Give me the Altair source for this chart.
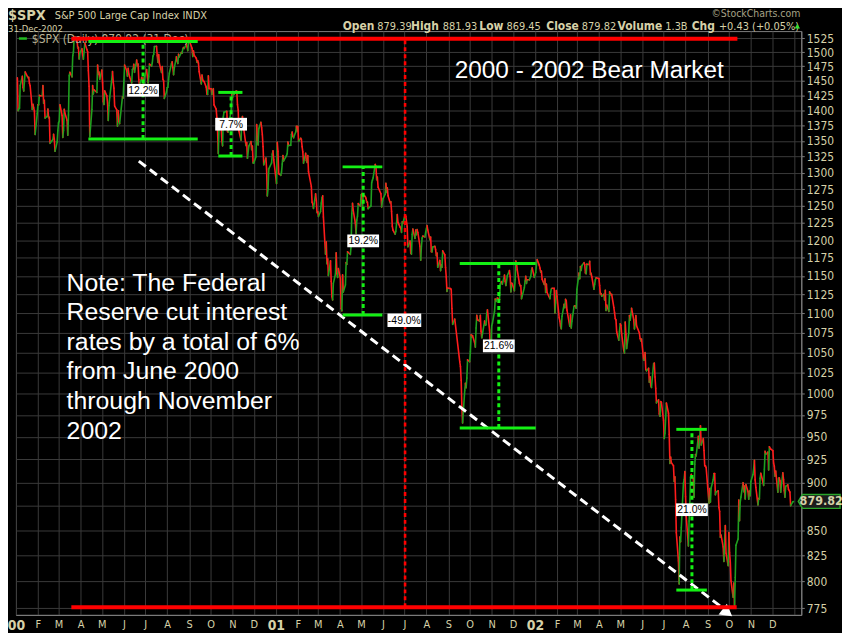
import altair as alt
import pandas as pd

# ---------------- data: S&P 500 daily closes ----------------
spx_2000 = [
    ("01-03", 1455.2), ("01-04", 1399.4), ("01-05", 1402.1), ("01-06", 1403.5), ("01-07", 1441.5),
    ("01-10", 1457.6), ("01-11", 1438.6), ("01-12", 1432.3), ("01-13", 1449.7), ("01-14", 1465.2),
    ("01-18", 1455.1), ("01-19", 1456.0), ("01-20", 1445.6), ("01-21", 1441.4), ("01-24", 1401.5),
    ("01-25", 1410.0), ("01-26", 1404.1), ("01-27", 1398.6), ("01-28", 1360.2), ("01-31", 1394.5),
    ("02-01", 1409.3), ("02-02", 1409.1), ("02-03", 1425.0), ("02-04", 1424.4), ("02-07", 1424.2),
    ("02-08", 1441.7), ("02-09", 1411.7), ("02-10", 1416.8), ("02-11", 1387.1), ("02-14", 1389.9),
    ("02-15", 1402.1), ("02-16", 1387.7), ("02-17", 1388.3), ("02-18", 1346.1), ("02-22", 1352.2),
    ("02-23", 1360.7), ("02-24", 1353.4), ("02-25", 1333.4), ("02-28", 1348.1), ("02-29", 1366.4),
    ("03-01", 1379.2), ("03-02", 1381.8), ("03-03", 1409.2), ("03-06", 1391.3), ("03-07", 1355.6),
    ("03-08", 1366.7), ("03-09", 1401.7), ("03-10", 1395.1), ("03-13", 1383.6), ("03-14", 1359.2),
    ("03-15", 1392.1), ("03-16", 1458.5), ("03-17", 1464.5), ("03-20", 1456.6), ("03-21", 1493.9),
    ("03-22", 1500.6), ("03-23", 1527.4), ("03-24", 1527.5), ("03-27", 1523.9), ("03-28", 1507.7),
    ("03-29", 1508.5), ("03-30", 1487.9), ("03-31", 1498.6),
    ("04-03", 1506.0), ("04-04", 1494.7), ("04-05", 1487.4), ("04-06", 1501.3), ("04-07", 1516.4),
    ("04-10", 1504.5), ("04-11", 1500.6), ("04-12", 1467.2), ("04-13", 1440.5), ("04-14", 1356.6),
    ("04-17", 1401.4), ("04-18", 1441.6), ("04-19", 1427.5), ("04-20", 1434.5), ("04-24", 1429.9),
    ("04-25", 1477.4), ("04-26", 1461.0), ("04-27", 1464.9), ("04-28", 1452.4),
    ("05-01", 1468.3), ("05-02", 1446.3), ("05-03", 1415.1), ("05-04", 1409.6), ("05-05", 1432.6),
    ("05-08", 1424.2), ("05-09", 1412.1), ("05-10", 1383.1), ("05-11", 1407.8), ("05-12", 1421.0),
    ("05-15", 1452.4), ("05-16", 1466.0), ("05-17", 1447.8), ("05-18", 1437.2), ("05-19", 1407.0),
    ("05-22", 1400.7), ("05-23", 1373.9), ("05-24", 1399.1), ("05-25", 1381.5), ("05-26", 1378.0),
    ("05-30", 1422.4), ("05-31", 1420.6),
    ("06-01", 1448.8), ("06-02", 1477.3), ("06-05", 1467.6), ("06-06", 1457.8), ("06-07", 1471.4),
    ("06-08", 1461.7), ("06-09", 1457.0), ("06-12", 1446.0), ("06-13", 1469.4), ("06-14", 1470.5),
    ("06-15", 1478.7), ("06-16", 1464.5), ("06-19", 1486.0), ("06-20", 1476.0), ("06-21", 1479.1),
    ("06-22", 1452.2), ("06-23", 1441.5), ("06-26", 1455.3), ("06-27", 1450.5), ("06-28", 1454.8),
    ("06-29", 1442.4), ("06-30", 1454.6),
    ("07-03", 1469.5), ("07-05", 1446.2), ("07-06", 1456.7), ("07-07", 1478.9), ("07-10", 1475.6),
    ("07-11", 1480.9), ("07-12", 1492.9), ("07-13", 1495.8), ("07-14", 1510.0), ("07-17", 1510.5),
    ("07-18", 1493.7), ("07-19", 1482.0), ("07-20", 1495.6), ("07-21", 1480.2), ("07-24", 1464.3),
    ("07-25", 1474.5), ("07-26", 1452.4), ("07-27", 1449.6), ("07-28", 1419.9), ("07-31", 1430.8),
    ("08-01", 1438.1), ("08-02", 1438.7), ("08-03", 1452.6), ("08-04", 1462.9), ("08-07", 1479.3),
    ("08-08", 1482.8), ("08-09", 1472.9), ("08-10", 1460.3), ("08-11", 1471.8), ("08-14", 1491.6),
    ("08-15", 1484.4), ("08-16", 1479.9), ("08-17", 1496.1), ("08-18", 1491.7), ("08-21", 1499.5),
    ("08-22", 1498.1), ("08-23", 1506.0), ("08-24", 1508.3), ("08-25", 1506.5), ("08-28", 1514.1),
    ("08-29", 1509.8), ("08-30", 1502.6), ("08-31", 1517.7),
    ("09-01", 1520.8), ("09-05", 1507.1), ("09-06", 1492.2), ("09-07", 1502.5), ("09-08", 1494.5),
    ("09-11", 1489.3), ("09-12", 1482.0), ("09-13", 1484.9), ("09-14", 1480.9), ("09-15", 1465.8),
    ("09-18", 1444.5), ("09-19", 1459.9), ("09-20", 1451.3), ("09-21", 1449.1), ("09-22", 1448.7),
    ("09-25", 1439.0), ("09-26", 1427.2), ("09-27", 1426.6), ("09-28", 1458.3), ("09-29", 1436.5),
    ("10-02", 1436.2), ("10-03", 1426.5), ("10-04", 1434.3), ("10-05", 1436.3), ("10-06", 1409.0),
    ("10-09", 1402.0), ("10-10", 1387.0), ("10-11", 1364.6), ("10-12", 1329.8), ("10-13", 1374.2),
    ("10-16", 1374.6), ("10-17", 1350.0), ("10-18", 1342.1), ("10-19", 1388.8), ("10-20", 1396.9),
    ("10-23", 1398.1), ("10-24", 1398.1), ("10-25", 1364.9), ("10-26", 1364.4), ("10-27", 1379.6),
    ("10-30", 1398.7), ("10-31", 1429.4),
    ("11-01", 1421.2), ("11-02", 1428.3), ("11-03", 1426.7), ("11-06", 1432.2), ("11-07", 1431.9),
    ("11-08", 1409.3), ("11-09", 1400.1), ("11-10", 1366.0), ("11-13", 1351.3), ("11-14", 1383.0),
    ("11-15", 1389.8), ("11-16", 1372.3), ("11-17", 1367.7), ("11-20", 1342.6), ("11-21", 1347.4),
    ("11-22", 1322.4), ("11-24", 1341.8), ("11-27", 1349.0), ("11-28", 1336.1), ("11-29", 1341.9),
    ("11-30", 1315.2),
    ("12-01", 1315.2), ("12-04", 1325.0), ("12-05", 1376.5), ("12-06", 1351.5), ("12-07", 1343.6),
    ("12-08", 1369.9), ("12-11", 1380.2), ("12-12", 1371.2), ("12-13", 1360.0), ("12-14", 1340.9),
    ("12-15", 1312.2), ("12-18", 1322.7), ("12-19", 1305.6), ("12-20", 1264.7), ("12-21", 1274.9),
    ("12-22", 1305.9), ("12-26", 1315.2), ("12-27", 1328.9), ("12-28", 1334.2), ("12-29", 1320.3),
]

spx_2001 = [
    ("01-02", 1283.3), ("01-03", 1347.6), ("01-04", 1333.3), ("01-05", 1298.4), ("01-08", 1295.9),
    ("01-09", 1300.8), ("01-10", 1313.3), ("01-11", 1326.8), ("01-12", 1318.3), ("01-16", 1326.7),
    ("01-17", 1329.5), ("01-18", 1348.0), ("01-19", 1342.5), ("01-22", 1342.9), ("01-23", 1360.4),
    ("01-24", 1364.3), ("01-25", 1357.5), ("01-26", 1355.0), ("01-29", 1364.2), ("01-30", 1373.7),
    ("01-31", 1366.0),
    ("02-01", 1373.5), ("02-02", 1349.5), ("02-05", 1354.3), ("02-06", 1352.3), ("02-07", 1340.9),
    ("02-08", 1332.5), ("02-09", 1314.8), ("02-12", 1330.3), ("02-13", 1318.8), ("02-14", 1315.9),
    ("02-15", 1326.6), ("02-16", 1301.5), ("02-20", 1278.9), ("02-21", 1255.3), ("02-22", 1252.8),
    ("02-23", 1245.9), ("02-26", 1267.7), ("02-27", 1257.9), ("02-28", 1239.9),
    ("03-01", 1241.2), ("03-02", 1234.2), ("03-05", 1241.4), ("03-06", 1253.8), ("03-07", 1261.9),
    ("03-08", 1264.7), ("03-09", 1233.4), ("03-12", 1180.2), ("03-13", 1197.7), ("03-14", 1166.7),
    ("03-15", 1173.6), ("03-16", 1150.5), ("03-19", 1170.8), ("03-20", 1142.6), ("03-21", 1122.1),
    ("03-22", 1117.6), ("03-23", 1139.8), ("03-26", 1152.7), ("03-27", 1182.2), ("03-28", 1153.3),
    ("03-29", 1148.0), ("03-30", 1160.3),
    ("04-02", 1145.9), ("04-03", 1106.5), ("04-04", 1103.3), ("04-05", 1151.4), ("04-06", 1128.4),
    ("04-09", 1137.6), ("04-10", 1168.4), ("04-11", 1165.9), ("04-12", 1183.5), ("04-16", 1179.7),
    ("04-17", 1191.8), ("04-18", 1238.2), ("04-19", 1253.7), ("04-20", 1243.0), ("04-23", 1224.4),
    ("04-24", 1209.5), ("04-25", 1228.8), ("04-26", 1234.5), ("04-27", 1253.1), ("04-30", 1249.5),
    ("05-01", 1266.4), ("05-02", 1267.4), ("05-03", 1248.6), ("05-04", 1266.6), ("05-07", 1263.5),
    ("05-08", 1261.2), ("05-09", 1255.5), ("05-10", 1255.5), ("05-11", 1245.7), ("05-14", 1248.9),
    ("05-15", 1249.4), ("05-16", 1285.0), ("05-17", 1288.5), ("05-18", 1292.0), ("05-21", 1312.8),
    ("05-22", 1309.4), ("05-23", 1289.1), ("05-24", 1293.2), ("05-25", 1277.9), ("05-29", 1267.9),
    ("05-30", 1248.1), ("05-31", 1255.8),
    ("06-01", 1260.7), ("06-04", 1267.1), ("06-05", 1283.6), ("06-06", 1270.0), ("06-07", 1277.0),
    ("06-08", 1265.0), ("06-11", 1254.4), ("06-12", 1255.9), ("06-13", 1241.6), ("06-14", 1219.9),
    ("06-15", 1214.4), ("06-18", 1208.4), ("06-19", 1212.6), ("06-20", 1223.1), ("06-21", 1237.0),
    ("06-22", 1225.4), ("06-25", 1218.6), ("06-26", 1216.8), ("06-27", 1211.1), ("06-28", 1226.2),
    ("06-29", 1224.4),
    ("07-02", 1236.7), ("07-03", 1234.5), ("07-05", 1219.2), ("07-06", 1190.6), ("07-09", 1198.8),
    ("07-10", 1181.5), ("07-11", 1180.2), ("07-12", 1208.1), ("07-13", 1215.7), ("07-16", 1202.5),
    ("07-17", 1214.4), ("07-18", 1207.7), ("07-19", 1215.0), ("07-20", 1210.9), ("07-23", 1191.0),
    ("07-24", 1171.7), ("07-25", 1190.5), ("07-26", 1202.9), ("07-27", 1205.8), ("07-30", 1204.5),
    ("07-31", 1211.2),
    ("08-01", 1215.9), ("08-02", 1220.8), ("08-03", 1214.4), ("08-06", 1200.5), ("08-07", 1204.4),
    ("08-08", 1183.5), ("08-09", 1183.4), ("08-10", 1190.2), ("08-13", 1191.3), ("08-14", 1186.7),
    ("08-15", 1178.0), ("08-16", 1181.7), ("08-17", 1162.0), ("08-20", 1171.4), ("08-21", 1157.3),
    ("08-22", 1165.3), ("08-23", 1162.1), ("08-24", 1184.9), ("08-27", 1179.2), ("08-28", 1161.5),
    ("08-29", 1148.6), ("08-30", 1129.0), ("08-31", 1133.6),
    ("09-04", 1132.9), ("09-05", 1131.7), ("09-06", 1106.4), ("09-07", 1085.8), ("09-10", 1092.5),
    ("09-17", 1038.8), ("09-18", 1032.7), ("09-19", 1016.1), ("09-20", 984.5), ("09-21", 965.8),
    ("09-24", 1003.5), ("09-25", 1012.3), ("09-26", 1007.0), ("09-27", 1018.6), ("09-28", 1040.9),
    ("10-01", 1038.6), ("10-02", 1051.3), ("10-03", 1072.3), ("10-04", 1069.6), ("10-05", 1071.4),
    ("10-08", 1062.4), ("10-09", 1056.8), ("10-10", 1081.0), ("10-11", 1097.4), ("10-12", 1091.7),
    ("10-15", 1090.0), ("10-16", 1097.5), ("10-17", 1077.1), ("10-18", 1068.6), ("10-19", 1073.5),
    ("10-22", 1089.9), ("10-23", 1084.8), ("10-24", 1085.2), ("10-25", 1100.1), ("10-26", 1104.6),
    ("10-29", 1078.3), ("10-30", 1059.8), ("10-31", 1059.8),
    ("11-01", 1084.1), ("11-02", 1087.2), ("11-05", 1102.8), ("11-06", 1118.9), ("11-07", 1115.8),
    ("11-08", 1118.5), ("11-09", 1120.3), ("11-12", 1118.3), ("11-13", 1139.1), ("11-14", 1141.2),
    ("11-15", 1142.2), ("11-16", 1138.7), ("11-19", 1151.1), ("11-20", 1142.7), ("11-21", 1137.0),
    ("11-23", 1150.3), ("11-26", 1157.4), ("11-27", 1149.5), ("11-28", 1128.5), ("11-29", 1140.2),
    ("11-30", 1139.5),
    ("12-03", 1129.9), ("12-04", 1144.8), ("12-05", 1170.4), ("12-06", 1167.1), ("12-07", 1158.3),
    ("12-10", 1139.9), ("12-11", 1136.8), ("12-12", 1137.1), ("12-13", 1119.4), ("12-14", 1123.1),
    ("12-17", 1134.4), ("12-18", 1142.9), ("12-19", 1149.6), ("12-20", 1139.9), ("12-21", 1144.9),
    ("12-24", 1144.7), ("12-26", 1149.4), ("12-27", 1157.1), ("12-28", 1161.0), ("12-31", 1148.1),
]

spx_2002 = [
    ("01-02", 1154.7), ("01-03", 1165.3), ("01-04", 1172.5), ("01-07", 1164.9), ("01-08", 1160.7),
    ("01-09", 1155.1), ("01-10", 1156.6), ("01-11", 1145.6), ("01-14", 1138.4), ("01-15", 1146.2),
    ("01-16", 1127.6), ("01-17", 1138.9), ("01-18", 1127.6), ("01-22", 1119.3), ("01-23", 1128.2),
    ("01-24", 1132.2), ("01-25", 1133.3), ("01-28", 1133.1), ("01-29", 1100.6), ("01-30", 1113.6),
    ("01-31", 1130.2),
    ("02-01", 1122.2), ("02-04", 1094.4), ("02-05", 1090.0), ("02-06", 1083.5), ("02-07", 1080.2),
    ("02-08", 1096.2), ("02-11", 1111.9), ("02-12", 1107.5), ("02-13", 1118.5), ("02-14", 1116.5),
    ("02-15", 1104.2), ("02-19", 1083.3), ("02-20", 1098.0), ("02-21", 1081.0), ("02-22", 1089.8),
    ("02-25", 1109.4), ("02-26", 1109.9), ("02-27", 1109.5), ("02-28", 1106.7),
    ("03-01", 1131.8), ("03-04", 1153.8), ("03-05", 1146.1), ("03-06", 1162.8), ("03-07", 1157.5),
    ("03-08", 1164.3), ("03-11", 1168.3), ("03-12", 1165.6), ("03-13", 1154.1), ("03-14", 1153.0),
    ("03-15", 1166.2), ("03-18", 1165.6), ("03-19", 1170.3), ("03-20", 1151.9), ("03-21", 1153.6),
    ("03-22", 1148.7), ("03-25", 1131.9), ("03-26", 1138.5), ("03-27", 1144.6), ("03-28", 1147.4),
    ("04-01", 1146.5), ("04-02", 1136.8), ("04-03", 1125.4), ("04-04", 1126.3), ("04-05", 1122.7),
    ("04-08", 1125.3), ("04-09", 1117.8), ("04-10", 1130.5), ("04-11", 1103.7), ("04-12", 1111.0),
    ("04-15", 1102.6), ("04-16", 1128.4), ("04-17", 1126.1), ("04-18", 1124.5), ("04-19", 1125.2),
    ("04-22", 1107.8), ("04-23", 1101.0), ("04-24", 1093.1), ("04-25", 1091.5), ("04-26", 1076.3),
    ("04-29", 1065.5), ("04-30", 1076.9),
    ("05-01", 1086.5), ("05-02", 1084.6), ("05-03", 1073.4), ("05-06", 1052.7), ("05-07", 1049.5),
    ("05-08", 1088.9), ("05-09", 1073.0), ("05-10", 1055.0), ("05-13", 1074.6), ("05-14", 1097.3),
    ("05-15", 1091.1), ("05-16", 1098.2), ("05-17", 1106.6), ("05-20", 1091.9), ("05-21", 1079.9),
    ("05-22", 1086.0), ("05-23", 1097.1), ("05-24", 1083.8), ("05-28", 1074.6), ("05-29", 1067.7),
    ("05-30", 1064.7), ("05-31", 1067.1),
    ("06-03", 1040.7), ("06-04", 1040.7), ("06-05", 1049.9), ("06-06", 1029.2), ("06-07", 1027.5),
    ("06-10", 1030.7), ("06-11", 1013.6), ("06-12", 1020.3), ("06-13", 1009.6), ("06-14", 1007.3),
    ("06-17", 1036.2), ("06-18", 1037.1), ("06-19", 1020.0), ("06-20", 1006.3), ("06-21", 989.1),
    ("06-24", 992.7), ("06-25", 976.1), ("06-26", 973.5), ("06-27", 990.6), ("06-28", 989.8),
    ("07-01", 968.7), ("07-02", 948.1), ("07-03", 954.0), ("07-05", 989.0), ("07-08", 977.0),
    ("07-09", 952.8), ("07-10", 920.5), ("07-11", 927.4), ("07-12", 921.4), ("07-15", 917.9),
    ("07-16", 900.9), ("07-17", 906.0), ("07-18", 881.6), ("07-19", 847.8), ("07-22", 819.9),
    ("07-23", 797.7), ("07-24", 843.4), ("07-25", 838.7), ("07-26", 852.8), ("07-29", 899.0),
    ("07-30", 902.8), ("07-31", 911.6),
    ("08-01", 884.7), ("08-02", 864.2), ("08-05", 834.6), ("08-06", 859.6), ("08-07", 876.8),
    ("08-08", 905.5), ("08-09", 908.6), ("08-12", 903.8), ("08-13", 884.2), ("08-14", 919.6),
    ("08-15", 930.3), ("08-16", 928.8), ("08-19", 950.7), ("08-20", 937.4), ("08-21", 949.4),
    ("08-22", 962.7), ("08-23", 940.9), ("08-26", 948.0), ("08-27", 934.8), ("08-28", 917.9),
    ("08-29", 917.8), ("08-30", 916.1),
    ("09-03", 878.0), ("09-04", 893.4), ("09-05", 879.2), ("09-06", 893.9), ("09-09", 903.0),
    ("09-10", 909.6), ("09-11", 909.5), ("09-12", 886.9), ("09-13", 889.8), ("09-16", 891.1),
    ("09-17", 873.5), ("09-18", 869.5), ("09-19", 843.3), ("09-20", 845.4), ("09-23", 833.7),
    ("09-24", 819.3), ("09-25", 839.7), ("09-26", 855.0), ("09-27", 827.4), ("09-30", 815.3),
    ("10-01", 847.9), ("10-02", 827.9), ("10-03", 819.0), ("10-04", 800.6), ("10-07", 785.3),
    ("10-08", 798.6), ("10-09", 776.8), ("10-10", 803.9), ("10-11", 835.3), ("10-14", 841.4),
    ("10-15", 881.3), ("10-16", 860.0), ("10-17", 879.2), ("10-18", 884.4), ("10-21", 899.7),
    ("10-22", 890.2), ("10-23", 896.1), ("10-24", 882.5), ("10-25", 897.7), ("10-28", 890.2),
    ("10-29", 882.2), ("10-30", 890.7), ("10-31", 885.8),
    ("11-01", 901.0), ("11-04", 908.4), ("11-05", 915.4), ("11-06", 923.8), ("11-07", 902.7),
    ("11-08", 894.7), ("11-11", 876.2), ("11-12", 883.0), ("11-13", 882.5), ("11-14", 904.3),
    ("11-15", 909.8), ("11-18", 900.4), ("11-19", 896.7), ("11-20", 914.2), ("11-21", 933.8),
    ("11-22", 930.6), ("11-25", 932.9), ("11-26", 913.3), ("11-27", 938.9), ("11-29", 936.3),
    ("12-02", 934.5), ("12-03", 920.8), ("12-04", 917.6), ("12-05", 906.6), ("12-06", 912.2),
    ("12-09", 889.5), ("12-10", 904.5), ("12-11", 905.0), ("12-12", 901.6), ("12-13", 889.5),
    ("12-16", 910.4), ("12-17", 903.0), ("12-18", 891.1), ("12-19", 884.3), ("12-20", 895.8),
    ("12-23", 897.4), ("12-24", 892.5), ("12-26", 889.7), ("12-27", 875.4), ("12-30", 879.4),
    ("12-31", 879.8),
]

# horizontal reference levels (red)
level_start = ["2000-03-19", "2000-03-19"]
level_end = ["2002-10-13", "2002-10-12"]
level_value = [1524, 776]

# vertical dotted marker
marker_date = ["2001-07-02"]
marker_lo = [776]
marker_hi = [1524]

# white dashed trend line with arrow head
trend_d0 = ["2000-06-22"]
trend_v0 = [1318]
trend_d1 = ["2002-09-27"]
trend_v1 = [773]
arrow_date = ["2002-09-29"]
arrow_value = [771]

# green rally brackets
bracket_left = ["2000-04-12", "2000-10-12", "2001-04-05", "2001-09-17", "2002-07-19"]
bracket_right = ["2000-09-13", "2000-11-15", "2001-05-31", "2002-01-02", "2002-08-31"]
bracket_mid = ["2000-06-28", "2000-10-30", "2001-05-04", "2001-11-11", "2002-08-10"]
bracket_low = [1353, 1326, 1098, 960, 792]
bracket_high = [1519, 1430, 1309, 1167, 958.5]
bracket_label = ["12.2%", "7.7%", "19.2%", "21.6%", "21.0%"]

total_date = ["2001-07-01"]
total_value = [1091]
total_label = ["-49.0%"]

y_ticks = list(range(775, 1526, 25))
last_close = 879.82

title_text = "2000 - 2002 Bear Market"
note_lines = [
    "Note: The Federal",
    "Reserve cut interest",
    "rates by a total of 6%",
    "from June 2000",
    "through November",
    "2002",
]
ohlc_names = ["Open", "High", "Low", "Close", "Volume", "Chg"]
ohlc_values = ["879.39", "881.93", "869.45", "879.82", "1.3B", "+0.43 (+0.05%)"]

# ---------------- styling ----------------
TAN = "#d6d1a8"
GRID = "#3a3a3a"
BORDER = "#7d7d7d"
UP = "#1f9f1f"
DOWN = "#ff1c1c"
LIME = "#14f014"
RED = "#ff0000"
NARROW = "Liberation Sans Narrow, Arial Narrow, DejaVu Sans Condensed, Liberation Sans, sans-serif"
SANS = "Liberation Sans, Arial, sans-serif"

# ---------------- frames ----------------
rows = []
for yr, series in (("2000", spx_2000), ("2001", spx_2001), ("2002", spx_2002)):
    for md, c in series:
        rows.append((f"{yr}-{md}", c))
px = pd.DataFrame(rows, columns=["date", "close"])
seg = pd.DataFrame({
    "d0": px["date"].shift(1), "d1": px["date"],
    "c0": px["close"].shift(1), "c1": px["close"],
}).dropna()
seg["dir"] = ["up" if b >= a else "down" for a, b in zip(seg["c0"], seg["c1"])]

levels = pd.DataFrame({"start": level_start, "end": level_end, "v": level_value})
marker = pd.DataFrame({"d": marker_date, "lo": marker_lo, "hi": marker_hi})
trend = pd.DataFrame({"d0": trend_d0, "v0": trend_v0, "d1": trend_d1, "v1": trend_v1})
arrow = pd.DataFrame({"d": arrow_date, "v": arrow_value})
brk = pd.DataFrame({"left": bracket_left, "right": bracket_right, "mid": bracket_mid,
                    "low": bracket_low, "high": bracket_high, "label": bracket_label})
total = pd.DataFrame({"d": total_date, "v": total_value, "label": total_label})
last = pd.DataFrame({"v": [last_close], "label": [f"{last_close:.2f}"]})
one = alt.Data(values=[{"k": 0}])

xscale = alt.Scale(type="utc", domain=[alt.DateTime(year=2000, month=1, date=1, utc=True),
                                       alt.DateTime(year=2003, month=1, date=11, utc=True)])
yscale = alt.Scale(type="log", domain=[769, 1538], nice=False)

is_year = "utcmonth(datum.value) == 0"
xaxis = alt.Axis(
    title=None, orient="bottom", grid=True, gridColor=GRID, gridWidth=1,
    tickCount={"interval": "month", "step": 1},
    labelExpr="utcyear(datum.value) >= 2003 ? '' : (utcmonth(datum.value) == 0 ? utcFormat(datum.value, '%y') : slice(utcFormat(datum.value, '%b'), 0, 1))",
    labelColor=TAN, labelFont=NARROW,
    labelFontSize={"condition": {"test": is_year, "value": 14}, "value": 11},
    labelFontWeight={"condition": {"test": is_year, "value": "bold"}, "value": "normal"},
    labelPadding=4, labelAngle=0, labelAlign="center", labelOverlap=False,
    labelFlush=False, labelBound=False, ticks=False,
    domainColor=BORDER, domainWidth=1,
)
# the last-value tag sits on top of the 875 label, so that label is left blank
yaxis = alt.Axis(
    title=None, orient="right", values=y_ticks, grid=True, gridColor=GRID, gridWidth=1,
    labelColor=TAN, labelFont=NARROW, labelFontSize=12, labelPadding=2,
    labelExpr="datum.value == 875 ? '' : datum.label",
    tickSize=3, tickColor=BORDER, domainColor=BORDER, labelOverlap=False,
    labelBound=False, labelFlush=False, format="d",
)


def X(f):
    return alt.X(f, type="temporal", title=None)


def Y(f):
    return alt.Y(f, type="quantitative", title=None)


price = alt.Chart(seg).mark_rule(strokeWidth=1.6, strokeCap="round").encode(
    x=alt.X("d0:T", scale=xscale, axis=xaxis, title=None),
    x2=alt.X2("d1"),
    y=alt.Y("c0:Q", scale=yscale, axis=yaxis, title=None),
    y2=alt.Y2("c1"),
    color=alt.Color("dir:N", scale=alt.Scale(domain=["up", "down"], range=[UP, DOWN]), legend=None),
)

trend_line = alt.Chart(trend).mark_rule(color="white", strokeWidth=3, strokeDash=[9, 5]).encode(
    x=X("d0"), x2=alt.X2("d1"), y=Y("v0"), y2=alt.Y2("v1"))
arrow_head = alt.Chart(arrow).mark_point(shape="triangle-up", angle=127, size=190, filled=True,
                                         color="white", opacity=1).encode(x=X("d"), y=Y("v"))

marker_line = alt.Chart(marker).mark_rule(color=RED, strokeWidth=2.6, strokeDash=[4, 3]).encode(
    x=X("d"), y=Y("lo"), y2=alt.Y2("hi"))

# legend inside plot (under the red line)
legend_dash = alt.Chart(one).mark_rule(color="#22bb22", strokeWidth=2.5).encode(
    x=alt.value(3), x2=alt.value(11), y=alt.value(7.5))
legend_text = alt.Chart(one).mark_text(text="$SPX (Daily) 879.82 (31 Dec)", align="left",
                                       baseline="alphabetic", font=NARROW, fontSize=12,
                                       color="#b9b597").encode(x=alt.value(16), y=alt.value(12))

level_lines = alt.Chart(levels).mark_rule(color=RED, strokeWidth=4).encode(
    x=X("start"), x2=alt.X2("end"), y=Y("v"))

br_top = alt.Chart(brk).mark_rule(color=LIME, strokeWidth=3).encode(
    x=X("left"), x2=alt.X2("right"), y=Y("high"))
br_bot = alt.Chart(brk).mark_rule(color=LIME, strokeWidth=3).encode(
    x=X("left"), x2=alt.X2("right"), y=Y("low"))
br_mid = alt.Chart(brk).mark_rule(color=LIME, strokeWidth=3, strokeDash=[4, 3]).encode(
    x=X("mid"), y=Y("low"), y2=alt.Y2("high"))

BOX = "M-1,-0.4L1,-0.4L1,0.4L-1,0.4Z"
br_box = alt.Chart(brk).transform_calculate(mv="sqrt(datum.low * datum.high)").mark_point(
    shape=BOX, size=1024, filled=True, color="white", opacity=1, strokeWidth=0).encode(
    x=X("mid"), y=Y("mv"))
br_txt = alt.Chart(brk).transform_calculate(mv="sqrt(datum.low * datum.high)").mark_text(
    font=SANS, fontSize=10.5, color="black", baseline="middle", dy=0.5).encode(
    x=X("mid"), y=Y("mv"), text="label:N")
tot_box = alt.Chart(total).mark_point(shape=BOX, size=1156, filled=True, color="white",
                                      opacity=1, strokeWidth=0).encode(x=X("d"), y=Y("v"))
tot_txt = alt.Chart(total).mark_text(font=SANS, fontSize=10.5, color="black", baseline="middle",
                                     dy=0.5).encode(x=X("d"), y=Y("v"), text="label:N")

title = alt.Chart(one).mark_text(text=title_text, align="left", baseline="alphabetic", font=SANS,
                                 fontSize=24.5, color="white").encode(x=alt.value(442), y=alt.value(47))
note = alt.Chart(one).mark_text(text=note_lines, align="left", baseline="alphabetic", font=SANS,
                                fontSize=25, lineHeight=29.8, color="white").encode(
    x=alt.value(51), y=alt.value(261.5))

# last value tag on the price axis
TAG = "M-1,0L-0.8,-0.33L1,-0.33L1,0.33L-0.8,0.33Z"
tag_box = alt.Chart(last).mark_point(shape=TAG, size=1764, filled=True, fill="#1b1b1b", opacity=1,
                                     stroke="#2aa52a", strokeWidth=1.5).encode(
    x=alt.value(809), y=Y("v"))
tag_txt = alt.Chart(last).mark_text(font=NARROW, fontSize=12.5, fontWeight="bold", color=TAN,
                                    baseline="middle").encode(x=alt.value(811), y=Y("v"), text="label:N")


def txt(text, x, y, size, color, weight="normal", align="left", font=NARROW):
    return alt.Chart(one).mark_text(text=text, align=align, baseline="alphabetic", fontSize=size,
                                    fontWeight=weight, color=color, font=font).encode(
        x=alt.value(x), y=alt.value(y))


header = [
    txt("$SPX", -8, -11.5, 14.5, TAN, "bold"),
    txt("S&P 500 Large Cap Index  INDX", 39, -12, 11, TAN),
    txt("31-Dec-2002", -8, 0.5, 9.5, TAN),
    txt("\u00a9StockCharts.com", 790, -14, 10.5, "#a6a286", align="right"),
]
# each bold name ends just before its value, which starts at a fixed place
name_end = [361, 426, 491, 567, 651, 704]
value_start = [364, 430, 494, 570, 654, 708]
for nm, ne, vs, val in zip(ohlc_names, name_end, value_start, ohlc_values):
    header.append(txt(nm, ne, -1, 12, TAN, "bold", align="right"))
    header.append(txt(val, vs, -1, 11, TAN))
header.append(alt.Chart(one).mark_point(shape="triangle-up", size=30, filled=True, color="#33dd33",
                                        opacity=1).encode(x=alt.value(787), y=alt.value(-5)))

chart = alt.layer(
    price, legend_dash, legend_text, trend_line, arrow_head, marker_line, level_lines,
    br_top, br_bot, br_mid, br_box, br_txt, tot_box, tot_txt, title, note, tag_box, tag_txt,
    *header,
).properties(
    width=791, height=588,
    padding={"left": 8, "top": 21, "right": 41, "bottom": 16},
    autosize=alt.AutoSizeParams(type="none"),
    background="black",
).configure_view(stroke=BORDER, strokeWidth=1, fill="black")

chart.save("out.html", embed_options={"renderer": "svg", "actions": False})
